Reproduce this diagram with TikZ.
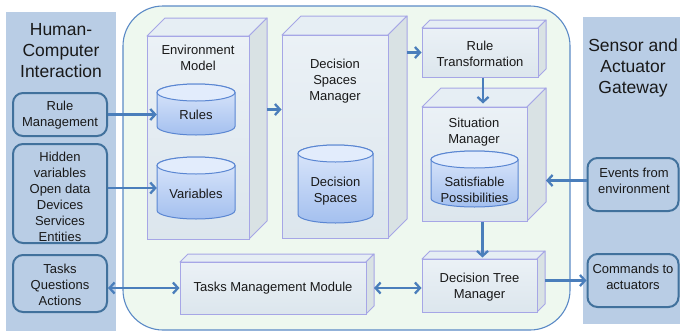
\documentclass[tikz,border=0pt]{standalone}
\usepackage{fontspec}
\setmainfont{Liberation Sans}
\usetikzlibrary{fit,arrows.meta}

\definecolor{panelfill}{HTML}{B9CDE5}
\definecolor{boxedge}{HTML}{41719C}
\definecolor{mainfill}{HTML}{EEF8EF}
\definecolor{mainedge}{HTML}{5B8AC6}
\definecolor{cubeedge}{HTML}{A6A6E6}
\definecolor{cubefronttop}{HTML}{EBF1F6}
\definecolor{cubefrontbot}{HTML}{DCE6ED}
\definecolor{cubetopface}{HTML}{E6EEF4}
\definecolor{cubesideface}{HTML}{D9E2E4}
\definecolor{drumedge}{HTML}{5A86D2}
\definecolor{drumtop}{HTML}{DDE8FB}
\definecolor{drumbot}{HTML}{A4C0EF}
\definecolor{drumlid}{HTML}{E2ECFC}
\definecolor{arrowblue}{HTML}{4A7EBB}

\tikzset{
  body/.style={font=\fontsize{13}{16}\selectfont, align=center, text=black!90},
  title/.style={font=\fontsize{17.5}{21}\selectfont, align=center, text=black!90},
  panel/.style={fill=panelfill, draw=none, inner sep=0pt},
  mainbox/.style={fill=mainfill, draw=mainedge, line width=1.1pt, rounded corners=40pt, inner sep=0pt},
  sidebox/.style={fill=panelfill, draw=boxedge, line width=2pt, rounded corners=10pt, inner sep=0pt},
  cubefront/.style={draw=cubeedge, line width=1pt, top color=cubefronttop, bottom color=cubefrontbot, inner sep=0pt},
  cubetop/.style={fill=cubetopface, draw=cubeedge, line width=1pt, line join=round},
  cubeside/.style={fill=cubesideface, draw=cubeedge, line width=1pt, line join=round},
  drumbody/.style={draw=drumedge, line width=1pt, top color=drumtop, bottom color=drumbot},
  drumcap/.style={draw=drumedge, line width=1pt, fill=drumlid},
  tip/.tip={Straight Barb[length=5pt,width=11pt]},
  conn/.style={draw=arrowblue, line width=2.3pt, -tip},
  biconn/.style={draw=arrowblue, line width=2.3pt, tip-tip},
}

% cuboid: #1 name, (#2,#3) front top-left, (#4,#5) front bottom-right, #6 depth
\newcommand{\cuboid}[6]{%
  \path[cubetop] (#2,#3) -- ({#2+#6},{#3-#6}) -- ({#4+#6},{#3-#6}) -- (#4,#3) -- cycle;
  \path[cubeside] (#4,#3) -- ({#4+#6},{#3-#6}) -- ({#4+#6},{#5-#6}) -- (#4,#5) -- cycle;
  \node[cubefront, fit={(#2,#3) (#4,#5)}] (#1) {};
  \coordinate (#1-r) at ({#4+#6},{(#3+#5)/2});
}

% drum (database cylinder): #1 name, (#2,#3) top-left, (#4,#5) bottom-right
\newcommand{\drum}[5]{%
  \path[drumbody] (#2,{#3+8.5}) -- (#2,{#5-8.5})
    arc[start angle=180, end angle=0, x radius={(#4-#2)/2}, y radius=8.5]
    -- (#4,{#3+8.5})
    arc[start angle=0, end angle=-180, x radius={(#4-#2)/2}, y radius=8.5] -- cycle;
  \path[drumcap] ({(#2+#4)/2},{#3+8.5}) ellipse[x radius={(#4-#2)/2}, y radius=8.5];
  \node[fit={(#2,#3) (#4,#5)}, inner sep=0pt] (#1) {};
}

\begin{document}
\begin{tikzpicture}[x=1pt, y=-1pt]
\useasboundingbox (0,0) rectangle (680,335);

% side panels
\node[panel, fit={(6,12) (116,331)}] (hci) {};
\node[title] (hcititle) at (61,51) {Human-\\Computer\\Interaction};
\node[panel, fit={(583,17) (680,324)}] (gw) {};
\node[title] (gwtitle) at (633,68) {Sensor and\\Actuator\\Gateway};

% core system
\node[mainbox, fit={(123,6) (570,330)}] (core) {};

% interaction side boxes
\node[sidebox, minimum width=94pt, minimum height=43pt] (rm) at (60,114.5) {};
\node[body] (rmlbl) at (60,115.5) {Rule\\Management};
\node[sidebox, minimum width=94pt, minimum height=99pt] (hidden) at (60,193.5) {};
\node[body] (hiddenlbl) at (60,196.5) {Hidden\\variables\\Open data\\Devices\\Services\\Entities};
\node[sidebox, minimum width=94pt, minimum height=57pt] (tasks) at (60,283.5) {};
\node[body] (taskslbl) at (60,285) {Tasks\\Questions\\Actions};

% gateway side boxes
\node[sidebox, minimum width=91pt, minimum height=53pt] (events) at (633,184.5) {};
\node[body] (eventslbl) at (634,180.5) {Events from\\environment};
\node[sidebox, minimum width=91pt, minimum height=53pt] (cmd) at (633,280.5) {};
\node[body] (cmdlbl) at (633,277) {Commands to\\actuators};

% modules
\cuboid{env}{147}{36}{249}{239}{18}
\node[body] (envlbl) at (198,57.5) {Environment\\Model};
\cuboid{dsm}{282}{35}{388}{238}{19}
\node[body] (dsmlbl) at (335,81) {Decision\\Spaces\\Manager};
\cuboid{rt}{422}{28}{538}{77}{8}
\node[body] (rtlbl) at (480,53.5) {Rule\\Transformation};
\cuboid{sm}{422}{107}{527}{221}{19}
\node[body] (smlbl) at (474,132.5) {Situation\\Manager};
\cuboid{dtm}{422}{259}{537}{312}{8}
\node[body] (dtmlbl) at (479.5,287.5) {Decision Tree\\Manager};
\cuboid{tmm}{180}{262}{366}{314}{8}
\node[body] (tmmlbl) at (273,288.5) {Tasks Management Module};

% data stores
\drum{rules}{157}{84}{235}{135}
\node[body] (ruleslbl) at (196,114.5) {Rules};
\drum{vars}{157}{157}{235}{219}
\node[body] (varslbl) at (196,193.5) {Variables};
\drum{ds}{298}{145}{373}{223}
\node[body] (dslbl) at (335.5,191.5) {Decision\\Spaces};
\drum{sp}{431}{151}{518}{207}
\node[body] (splbl) at (474.5,189.5) {Satisfiable\\Possibilities};

% connectors
\draw[conn] (rm.east) -- (rm.east -| rules.west);
\draw[conn] (vars.west -| hidden.east) -- (vars.west);
\draw[biconn] (tmm.west -| tasks.east) -- (tmm.west);
\draw[conn] (rules.east -| env-r) -- (rules.east -| dsm.west);
\draw[conn] (rt.west -| dsm-r) -- (rt.west);
\draw[conn] ([xshift=3pt]rt.south) -- ([xshift=3pt,yshift=3pt]rt.south |- sm.north);
\draw[conn] ([xshift=3pt]dtm.north |- sm.south) -- ([xshift=3pt,yshift=1pt]dtm.north);
\draw[conn] ([yshift=4pt]events.west) -- ([yshift=4pt]events.west -| sm-r);
\draw[biconn] (tmm.east -| tmm-r) -- (tmm.east -| dtm.west);
\draw[conn] (cmd.west -| dtm-r) -- (cmd.west);
\end{tikzpicture}
\end{document}
